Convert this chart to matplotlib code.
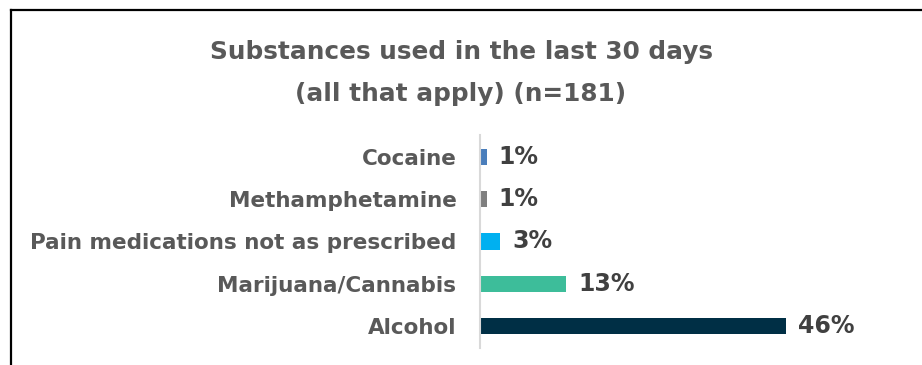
import matplotlib
matplotlib.use("Agg")
import matplotlib.pyplot as plt
from matplotlib.lines import Line2D

categories = ["Cocaine", "Methamphetamine", "Pain medications not as prescribed",
              "Marijuana/Cannabis", "Alcohol"]
values = [1, 1, 3, 13, 46]
value_labels = ["1%", "1%", "3%", "13%", "46%"]
colors = ["#4a7ebb", "#7f7f7f", "#00b0f0", "#3dbd9a", "#002f45"]
title = "Substances used in the last 30 days\n(all that apply) (n=181)"

FONT = "DejaVu Sans"
W, H = 922, 365
fig = plt.figure(figsize=(W / 100, H / 100), dpi=100)
fig.patch.set_facecolor("white")

# chart area frame (top and left edges)
fig.add_artist(Line2D([10.5 / W, 10.5 / W], [0, 1 - 9.5 / H], color="black", lw=1.6,
                      transform=fig.transFigure))
fig.add_artist(Line2D([10.5 / W, 1], [1 - 9.5 / H, 1 - 9.5 / H], color="black", lw=1.6,
                      transform=fig.transFigure))

ax_left, ax_right = 480 / W, 900 / W
ax_top, ax_bottom = 1 - 135 / H, 1 - 348 / H
ax = fig.add_axes([ax_left, ax_bottom, ax_right - ax_left, ax_top - ax_bottom])

n = len(categories)
ypos = list(range(n - 1, -1, -1))
ax.barh(ypos, values, height=0.38, color=colors)
ax.set_xlim(0, 420 / 6.65)
ax.set_ylim(-0.52, n - 0.48)

for y, v, lab in zip(ypos, values, value_labels):
    ax.text(v + 1.8, y, lab, ha="left", va="center", fontsize=17, fontweight="bold",
            color="#404040", family=FONT)

ax.set_yticks(ypos)
ax.set_yticklabels(categories, fontsize=15.5, fontweight="bold", color="#595959",
                   family=FONT)
ax.tick_params(axis="y", length=0, pad=17)
ax.set_xticks([])
for s in ["top", "right", "bottom"]:
    ax.spines[s].set_visible(False)
ax.spines["left"].set_color("#d9d9d9")
ax.spines["left"].set_linewidth(1.5)

fig.text(461 / W, 1 - 73 / H, title, ha="center", va="center", fontsize=17.8,
         fontweight="bold", color="#595959", family=FONT,
         linespacing=2.0)

fig.savefig("out.png", dpi=100, facecolor="white")
